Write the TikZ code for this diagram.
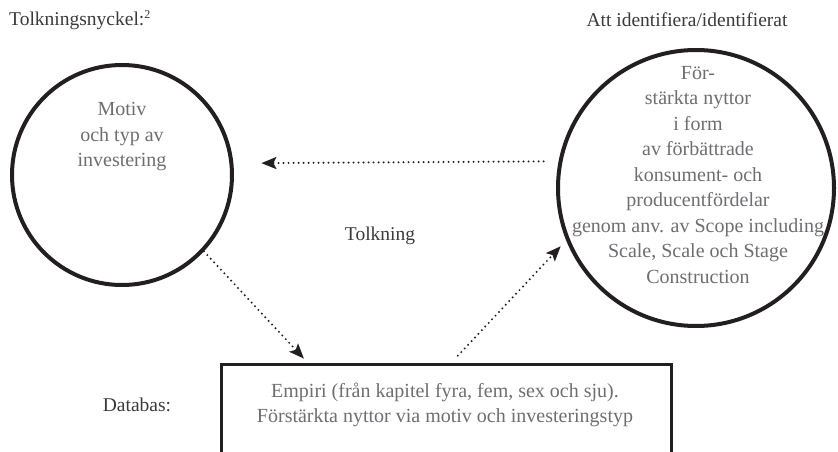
\documentclass[tikz,border=0pt]{standalone}
\usepackage{fontspec}
\setmainfont{Liberation Serif}
\usetikzlibrary{arrows.meta}
\definecolor{ink}{HTML}{231F20}
\definecolor{softtext}{HTML}{6D6E71}
\definecolor{labeltext}{HTML}{3A3A3A}
\tikzset{
  ring/.style={circle, draw=ink, line width=4pt, inner sep=0pt},
  databox/.style={rectangle, draw=ink, line width=3pt, inner sep=0pt, anchor=north west},
  bodytext/.style={text=softtext, align=center, inner sep=0pt,
    font=\fontsize{20}{25.5}\selectfont},
  labeltxt/.style={text=labeltext, inner sep=0pt, font=\fontsize{19.5}{22}\selectfont},
  dotarrow/.style={draw=ink, line width=2.2pt, line cap=round,
    dash pattern=on 0pt off 5pt, -{Stealth[length=15pt,width=12pt,inset=3pt]}}
}
\begin{document}
\begin{tikzpicture}[x=1pt, y=-1pt]
  \clip (0,0) rectangle (838,452);
  \useasboundingbox (0,0) rectangle (838,452);

  % headings
  \node[labeltxt, anchor=west] (key) at (9,20) {Tolkningsnyckel:\textsuperscript{\fontsize{12}{12}\selectfont 2}};
  \node[labeltxt] (ident) at (687,20) {Att identifiera/identifierat};

  % motive circle
  \node[ring, minimum size=220pt] (lc) at (122,175) {};
  \node[bodytext] (lctext) at (122,137) {Motiv\\och typ av\\investering};

  % benefits circle
  \node[ring, minimum size=276pt] (rc) at (696,188) {};
  \node[bodytext] (rctext) at (698,175) {För-\\stärkta nyttor\\i form\\av förbättrade\\konsument- och\\producentfördelar\\genom anv. av Scope including\\Scale, Scale och Stage\\Construction};

  % central label
  \node[labeltxt] (tolk) at (380,236) {Tolkning};

  % data base box
  \node[labeltxt] (dblabel) at (137,405) {Databas:};
  \node[databox, minimum width=450pt, minimum height=120pt] (db) at (220,363) {};
  \node[bodytext, font=\fontsize{20}{24.5}\selectfont] (dbtext) at (445,405) {Empiri (från kapitel fyra, fem, sex och sju).\\Förstärkta nyttor via motiv och investeringstyp};

  % connectors
  \draw[dotarrow, shorten <=15pt, shorten >=28pt] (rc.169.7) -- (lc.6.3);
  \draw[dotarrow, shorten >=6pt] (lc.-43) -- ([xshift=88pt]db.north west);
  \draw[dotarrow, shorten <=10pt, shorten >=8pt] ([xshift=231pt]db.north west) -- (rc.202.4);
\end{tikzpicture}
\end{document}
